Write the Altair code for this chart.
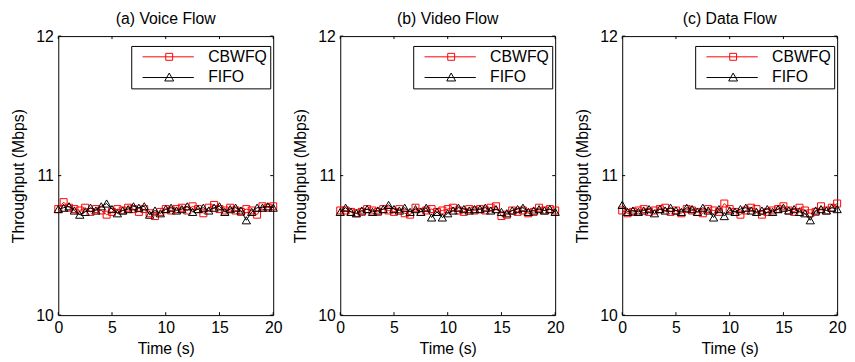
import altair as alt
import pandas as pd

# ---------------- data ----------------
times = [i * 0.5 for i in range(41)]
series_names = ["CBWFQ", "FIFO"]
panel_titles = ["(a) Voice Flow", "(b) Video Flow", "(c) Data Flow"]

voice_cbwfq = [10.76, 10.81, 10.77, 10.76, 10.75, 10.77, 10.74, 10.76, 10.75, 10.72,
               10.74, 10.76, 10.75, 10.77, 10.76, 10.74, 10.76, 10.73, 10.71, 10.74,
               10.76, 10.75, 10.76, 10.77, 10.75, 10.78, 10.76, 10.73, 10.77, 10.79,
               10.76, 10.75, 10.77, 10.75, 10.74, 10.76, 10.75, 10.72, 10.78, 10.77, 10.78]
voice_fifo = [10.76, 10.77, 10.78, 10.75, 10.72, 10.74, 10.77, 10.75, 10.78, 10.80,
              10.76, 10.73, 10.75, 10.76, 10.78, 10.77, 10.78, 10.72, 10.75, 10.73,
              10.76, 10.77, 10.75, 10.76, 10.78, 10.74, 10.76, 10.77, 10.75, 10.77,
              10.78, 10.74, 10.76, 10.77, 10.75, 10.68, 10.74, 10.77, 10.77, 10.78, 10.77]
video_cbwfq = [10.75, 10.75, 10.74, 10.73, 10.74, 10.76, 10.75, 10.74, 10.76, 10.75,
               10.74, 10.76, 10.73, 10.72, 10.77, 10.74, 10.75, 10.76, 10.74, 10.75,
               10.76, 10.77, 10.75, 10.74, 10.76, 10.75, 10.76, 10.75, 10.77, 10.78,
               10.71, 10.72, 10.75, 10.74, 10.75, 10.73, 10.74, 10.77, 10.75, 10.76, 10.75]
video_fifo = [10.74, 10.77, 10.74, 10.73, 10.75, 10.76, 10.74, 10.75, 10.76, 10.79,
              10.76, 10.75, 10.77, 10.74, 10.76, 10.74, 10.77, 10.70, 10.74, 10.70,
              10.73, 10.75, 10.77, 10.76, 10.75, 10.76, 10.76, 10.77, 10.75, 10.76,
              10.74, 10.73, 10.75, 10.76, 10.77, 10.74, 10.75, 10.76, 10.75, 10.76, 10.74]
data_cbwfq = [10.75, 10.73, 10.74, 10.75, 10.76, 10.74, 10.75, 10.76, 10.77, 10.74,
              10.75, 10.73, 10.76, 10.75, 10.74, 10.73, 10.76, 10.75, 10.74, 10.80,
              10.76, 10.74, 10.72, 10.75, 10.77, 10.76, 10.72, 10.74, 10.75, 10.76,
              10.78, 10.75, 10.74, 10.77, 10.75, 10.73, 10.74, 10.78, 10.75, 10.77, 10.80]
data_fifo = [10.79, 10.74, 10.75, 10.74, 10.75, 10.76, 10.73, 10.76, 10.75, 10.77,
             10.75, 10.74, 10.77, 10.76, 10.74, 10.77, 10.75, 10.70, 10.76, 10.71,
             10.75, 10.74, 10.76, 10.77, 10.75, 10.74, 10.75, 10.76, 10.74, 10.76,
             10.77, 10.75, 10.76, 10.74, 10.73, 10.68, 10.75, 10.76, 10.75, 10.77, 10.76]

x_ticks = [0, 5, 10, 15, 20]
y_ticks = [10, 11, 12]

# ---------------- style ----------------
FONT = "Liberation Sans"
FS = 16
W, H = 218, 283
colors = ["#ff0000", "#000000"]
marker_shapes = ["square", "triangle-up"]
marker_sizes = [50, 70]
# legend symbols: line with a marker on it (unit = sqrt(size)/2 px)
legend_paths = [
    "M0.14,0H15.0M6.86,-1H8.86V1H6.86Z",
    "M0.14,0H15.0M7.86,-1.3L9.15,1.0H6.57Z",
]

xscale = alt.Scale(domain=[0, 20], nice=False, zero=False)
yscale = alt.Scale(domain=[10, 12], nice=False, zero=False)


def panel(title, cb, ff):
    df = pd.DataFrame({
        "t": times + times,
        "v": cb + ff,
        "series": [series_names[0]] * len(times) + [series_names[1]] * len(times),
    })
    x = alt.X("t:Q", scale=xscale,
              axis=alt.Axis(values=x_ticks, format=".0f", title="Time (s)",
                            labelPadding=5, titlePadding=5, labelOverlap=False,
                            labelFlush=False))
    y = alt.Y("v:Q", scale=yscale,
              axis=alt.Axis(values=y_ticks, format=".0f", title="Throughput (Mbps)",
                            labelPadding=5, titlePadding=9, labelOverlap=False,
                            labelFlush=False))
    base = alt.Chart(df)
    layers = []
    for name, col, shp, sz in zip(series_names, colors, marker_shapes, marker_sizes):
        sub = base.transform_filter(alt.datum.series == name)
        layers.append(sub.mark_line(color=col, strokeWidth=1).encode(x=x, y=y))
        layers.append(sub.mark_point(shape=shp, color=col, size=sz, filled=False,
                                     strokeWidth=1, opacity=1).encode(x=x, y=y))

    leg = alt.Legend(title=None, orient="none", legendX=74, legendY=10,
                     strokeColor="black", fillColor="white", padding=3,
                     labelFont=FONT, labelFontSize=FS, labelColor="black",
                     symbolSize=49, symbolStrokeWidth=1, symbolOpacity=1,
                     symbolFillColor="transparent",
                     labelOffset=59, rowPadding=5, cornerRadius=0)
    legend_layer = base.mark_point(opacity=0, filled=False).encode(
        color=alt.Color("series:N", scale=alt.Scale(domain=series_names, range=colors), legend=leg),
        shape=alt.Shape("series:N", scale=alt.Scale(domain=series_names, range=legend_paths), legend=leg),
    )

    xt = alt.Chart(pd.DataFrame({"t": x_ticks}))
    yt = alt.Chart(pd.DataFrame({"v": y_ticks}))
    ticks = [
        xt.mark_rule(color="black", strokeWidth=1).encode(x=x, y=alt.value(0), y2=alt.value(3)),
        xt.mark_rule(color="black", strokeWidth=1).encode(x=x, y=alt.value(H), y2=alt.value(H - 3)),
        yt.mark_rule(color="black", strokeWidth=1).encode(y=y, x=alt.value(0), x2=alt.value(3)),
        yt.mark_rule(color="black", strokeWidth=1).encode(y=y, x=alt.value(W), x2=alt.value(W - 3)),
    ]

    return alt.layer(*layers, *ticks, legend_layer).properties(
        width=W, height=H,
        title=alt.TitleParams(title, frame="group", anchor="middle", offset=1,
                              font=FONT, fontSize=FS, fontWeight="normal", color="black"),
    )


panels = [
    panel(panel_titles[0], voice_cbwfq, voice_fifo),
    panel(panel_titles[1], video_cbwfq, video_fifo),
    panel(panel_titles[2], data_cbwfq, data_fifo),
]

chart = alt.hconcat(*panels, spacing=68, bounds="flush").resolve_scale(
    color="independent", shape="independent"
).properties(
    padding={"left": 2, "top": 0, "right": 0, "bottom": 0},
    background="white",
).configure_view(
    stroke="black", strokeWidth=1
).configure_axis(
    domain=False, ticks=False, grid=False,
    labelFont=FONT, labelFontSize=FS, labelColor="black",
    titleFont=FONT, titleFontSize=FS, titleFontWeight="normal", titleColor="black",
)

chart.save("out.html", embed_options={"renderer": "svg", "actions": False})
